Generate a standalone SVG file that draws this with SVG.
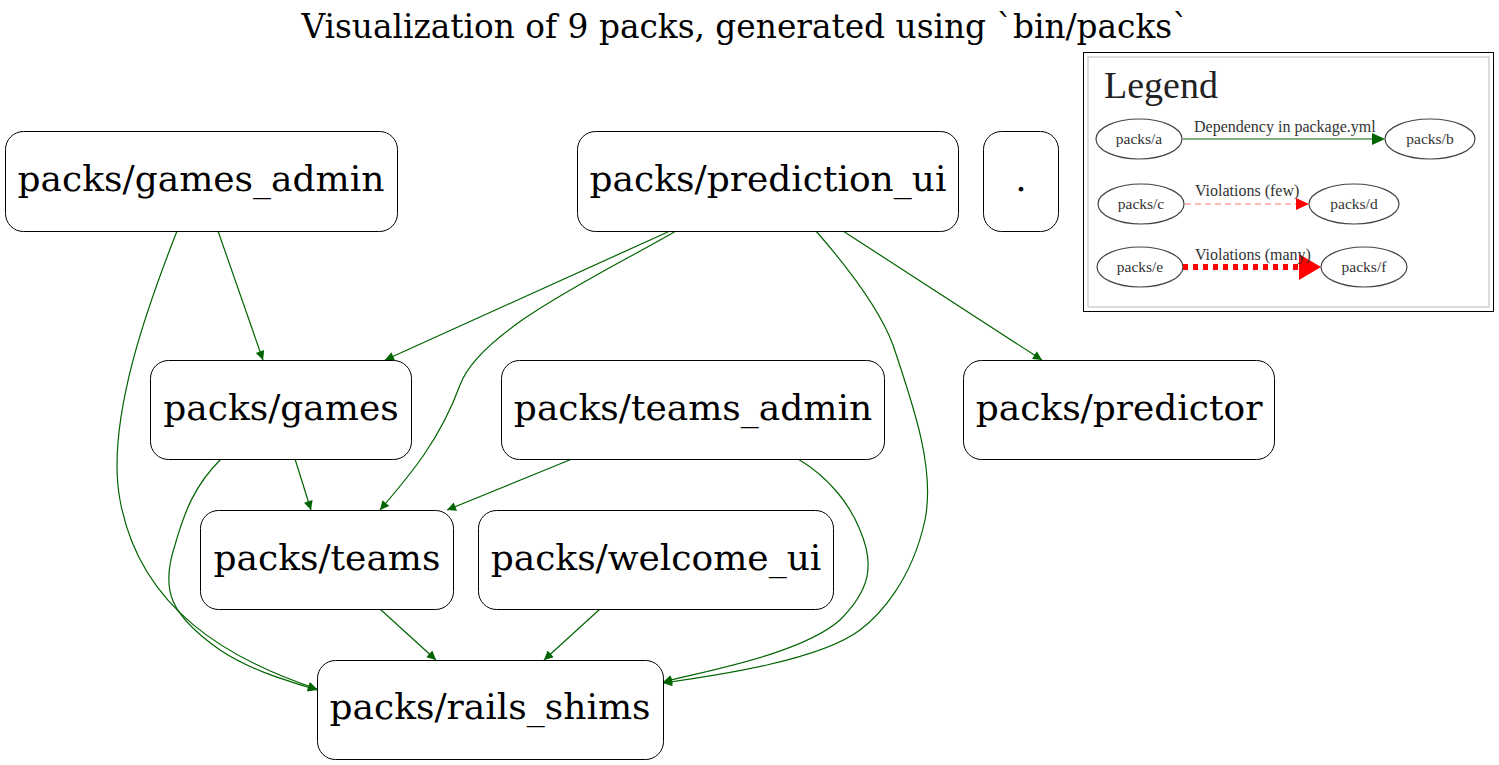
<svg xmlns="http://www.w3.org/2000/svg" width="1499" height="765" viewBox="0 0 1499 765">
  <style>
    .node rect { fill: #ffffff; stroke: #000000; stroke-width: 1; }
    .node text { font-family: "DejaVu Serif", serif; font-size: 36px; fill: #000000; text-anchor: middle; }
    .title { font-family: "DejaVu Serif", serif; font-size: 32.8px; fill: #000000; text-anchor: middle; }
    .edge { fill: none; stroke: #006400; stroke-width: 1.2; }
    .legend-node { fill: #ffffff; stroke: #444444; stroke-width: 1.2; }
    .legend-text { font-family: "Liberation Serif", serif; font-size: 16px; fill: #333333; }
    .legend-label { font-family: "Liberation Serif", serif; font-size: 15.5px; fill: #333333; text-anchor: middle; }
  </style>
  <defs>
    <marker id="arrow" viewBox="0 0 10 10" refX="10" refY="5" markerWidth="13" markerHeight="9" markerUnits="userSpaceOnUse" orient="auto">
      <path d="M0,0 L10,5 L0,10 Z" fill="#006400"/>
    </marker>
  </defs>

  <rect width="1499" height="765" fill="#ffffff"/>
  <text class="title" x="745" y="38">Visualization of 9 packs, generated using `bin/packs`</text>

  <!-- dependency edges -->
  <g id="edges">
    <path class="edge" marker-end="url(#arrow)" d="M218,231 L263,360"/>
    <path class="edge" marker-end="url(#arrow)" d="M177,231 C150,300 105,420 120,500 C140,610 230,660 317,689"/>
    <path class="edge" marker-end="url(#arrow)" d="M670,231 L385,360"/>
    <path class="edge" marker-end="url(#arrow)" d="M676,231 C600,275 480,330 460,385 C440,440 410,475 380,510"/>
    <path class="edge" marker-end="url(#arrow)" d="M816,231 C850,270 880,310 893,345 C915,410 935,470 925,520 C912,580 880,615 860,630 C820,660 720,675 663,683"/>
    <path class="edge" marker-end="url(#arrow)" d="M843,231 L1042,360"/>
    <path class="edge" marker-end="url(#arrow)" d="M295,459 L311,510"/>
    <path class="edge" marker-end="url(#arrow)" d="M221,459 C195,485 185,510 175,545 C160,590 170,615 220,650 C250,670 285,680 317,690"/>
    <path class="edge" marker-end="url(#arrow)" d="M572,459 L447,510"/>
    <path class="edge" marker-end="url(#arrow)" d="M798,459 C830,478 850,505 860,530 C875,565 870,590 840,620 C800,655 700,672 663,682"/>
    <path class="edge" marker-end="url(#arrow)" d="M380,609 L436,660"/>
    <path class="edge" marker-end="url(#arrow)" d="M600,609 L544,660"/>
  </g>

  <!-- packs -->
  <g id="node-games_admin" class="node">
    <rect x="5.5" y="131.5" width="392" height="100" rx="18"/>
    <text x="201" y="191">packs/games_admin</text>
  </g>
  <g id="node-prediction_ui" class="node">
    <rect x="577.5" y="131.5" width="381" height="100" rx="18"/>
    <text x="768" y="191">packs/prediction_ui</text>
  </g>
  <g id="node-root" class="node">
    <rect x="983.5" y="131.5" width="75" height="100" rx="18"/>
    <text x="1021" y="191">.</text>
  </g>
  <g id="node-games" class="node">
    <rect x="150.5" y="360.5" width="261" height="99" rx="18"/>
    <text x="281" y="420">packs/games</text>
  </g>
  <g id="node-teams_admin" class="node">
    <rect x="501.5" y="360.5" width="383" height="99" rx="18"/>
    <text x="693" y="420">packs/teams_admin</text>
  </g>
  <g id="node-predictor" class="node">
    <rect x="963.5" y="360.5" width="311" height="99" rx="18"/>
    <text x="1119" y="420">packs/predictor</text>
  </g>
  <g id="node-teams" class="node">
    <rect x="200.5" y="510.5" width="253" height="99" rx="18"/>
    <text x="327" y="570">packs/teams</text>
  </g>
  <g id="node-welcome_ui" class="node">
    <rect x="478.5" y="510.5" width="355" height="99" rx="18"/>
    <text x="656" y="570">packs/welcome_ui</text>
  </g>
  <g id="node-rails_shims" class="node">
    <rect x="317.5" y="660.5" width="346" height="99" rx="18"/>
    <text x="490" y="719">packs/rails_shims</text>
  </g>

  <!-- legend -->
  <g id="legend">
    <rect x="1083.5" y="52.5" width="410" height="259" fill="#ffffff" stroke="#000000" stroke-width="1"/>
    <rect x="1088" y="57" width="401" height="250" fill="none" stroke="#bbbbbb" stroke-width="1"/>
    <text x="1104" y="98" font-family="Liberation Serif, serif" font-size="38" fill="#222222">Legend</text>

    <ellipse class="legend-node" cx="1139" cy="139" rx="43" ry="20"/>
    <text class="legend-label" x="1139" y="144">packs/a</text>
    <ellipse class="legend-node" cx="1430" cy="139" rx="45" ry="20"/>
    <text class="legend-label" x="1430" y="144">packs/b</text>
    <line x1="1183" y1="139" x2="1373" y2="139" stroke="#006400" stroke-width="1.2"/>
    <path d="M1372,133 L1385,139 L1372,145 Z" fill="#006400"/>
    <text class="legend-text" x="1194" y="132">Dependency in package.yml</text>

    <ellipse class="legend-node" cx="1141" cy="204" rx="43" ry="20"/>
    <text class="legend-label" x="1141" y="209">packs/c</text>
    <ellipse class="legend-node" cx="1354" cy="204" rx="45" ry="20"/>
    <text class="legend-label" x="1354" y="209">packs/d</text>
    <line x1="1185" y1="204" x2="1296" y2="204" stroke="#ff7777" stroke-width="1.2" stroke-dasharray="6,4"/>
    <path d="M1296,198 L1309,204 L1296,210 Z" fill="#ff0000"/>
    <text class="legend-text" x="1195" y="196">Violations (few)</text>

    <ellipse class="legend-node" cx="1140" cy="267" rx="43" ry="20"/>
    <text class="legend-label" x="1140" y="272">packs/e</text>
    <ellipse class="legend-node" cx="1364" cy="267" rx="43" ry="20"/>
    <text class="legend-label" x="1364" y="272">packs/f</text>
    <line x1="1183" y1="267" x2="1300" y2="267" stroke="#ff0000" stroke-width="6" stroke-dasharray="5,5"/>
    <path d="M1299,254 L1321,267 L1299,280 Z" fill="#ff0000"/>
    <text class="legend-text" x="1195" y="260">Violations (many)</text>
  </g>
</svg>
